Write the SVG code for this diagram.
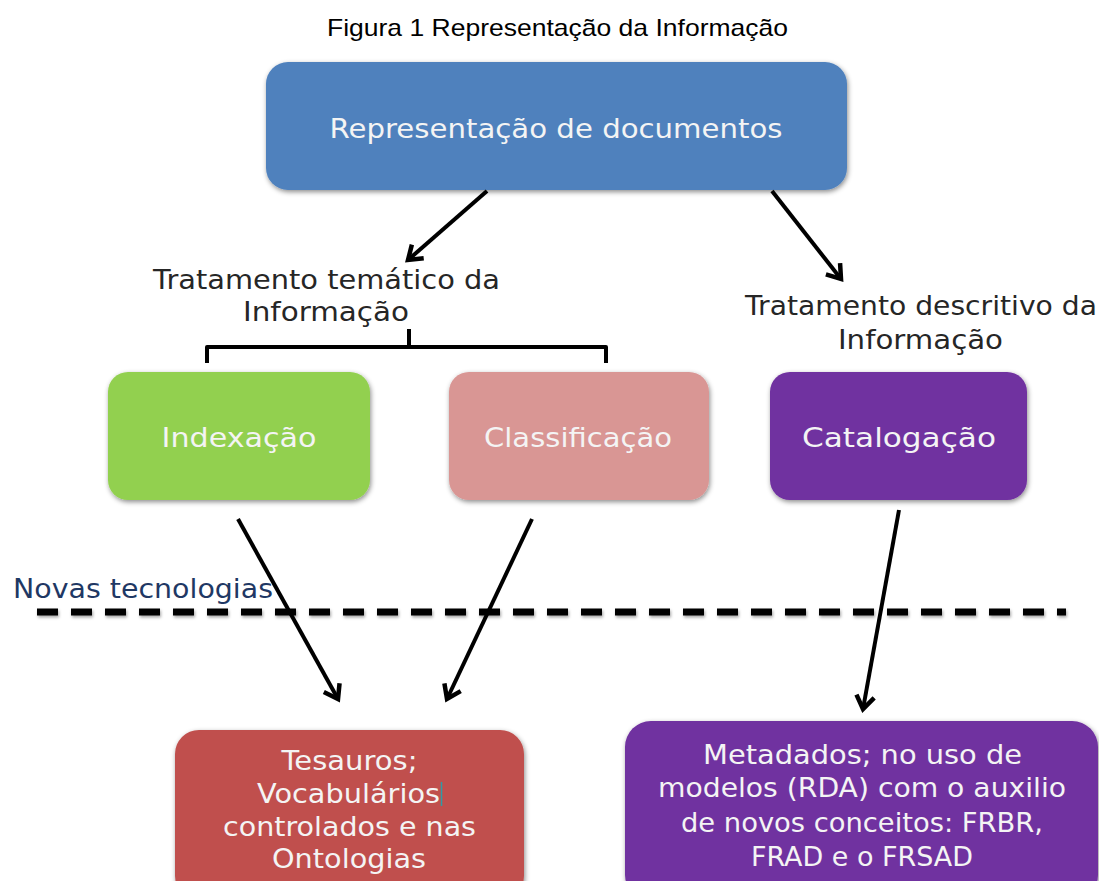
<svg xmlns="http://www.w3.org/2000/svg" width="1099" height="881" viewBox="0 0 1099 881">
  <style>
    .title { font-family: "Liberation Sans", Arial, sans-serif; font-size: 24px; fill: #000; }
    .box { filter: url(#shadow); }
    .btext { font-family: "DejaVu Sans", "Open Sans", sans-serif; font-size: 27px; fill: #F4F4F4; text-anchor: middle; }
    .label { font-family: "DejaVu Sans", "Open Sans", sans-serif; font-size: 27px; fill: #262626; }
    .conn { stroke: #000; stroke-width: 4; fill: none; marker-end: url(#arrow); }
  </style>
  <defs>
    <filter id="shadow" x="-10%" y="-10%" width="120%" height="130%">
      <feDropShadow dx="1" dy="2" stdDeviation="2.5" flood-color="#000" flood-opacity="0.45"/>
    </filter>
    <filter id="lineshadow" filterUnits="userSpaceOnUse" x="20" y="595" width="1070" height="40">
      <feDropShadow dx="1" dy="2" stdDeviation="1.5" flood-color="#000" flood-opacity="0.35"/>
    </filter>
    <marker id="arrow" markerUnits="userSpaceOnUse" markerWidth="30" markerHeight="30" refX="0" refY="0" orient="auto" viewBox="-16 -15 30 30" overflow="visible">
      <path d="M-13,-9 L0,0 L-13,9" fill="none" stroke="#000" stroke-width="4.5" stroke-linejoin="miter"/>
    </marker>
  </defs>
  <rect width="1099" height="881" fill="#FFFFFF"/>

  <text class="title" x="327" y="36" textLength="461" lengthAdjust="spacingAndGlyphs">Figura 1 Representação da Informação</text>

  <g id="n-representacao">
    <rect class="box" x="266" y="62" width="581" height="128" rx="22" fill="#4F81BD"/>
    <text class="btext" x="556" y="138" textLength="453" lengthAdjust="spacingAndGlyphs">Representação de documentos</text>
  </g>

  <g id="n-tematico">
    <text class="label" x="153" y="289" textLength="347" lengthAdjust="spacingAndGlyphs">Tratamento temático da</text>
    <text class="label" x="243" y="321" textLength="166" lengthAdjust="spacingAndGlyphs">Informação</text>
  </g>

  <g id="n-descritivo">
    <text class="label" x="745" y="315" textLength="352" lengthAdjust="spacingAndGlyphs">Tratamento descritivo da</text>
    <text class="label" x="838" y="349" textLength="165" lengthAdjust="spacingAndGlyphs">Informação</text>
  </g>

  <g id="n-indexacao">
    <rect class="box" x="108" y="372" width="262" height="128" rx="20" fill="#92D050"/>
    <text class="btext" x="239" y="447" textLength="155" lengthAdjust="spacingAndGlyphs">Indexação</text>
  </g>

  <g id="n-classificacao">
    <rect class="box" x="449" y="372" width="260" height="128" rx="20" fill="#D99694"/>
    <text class="btext" x="578" y="447" textLength="188" lengthAdjust="spacingAndGlyphs">Classificação</text>
  </g>

  <g id="n-catalogacao">
    <rect class="box" x="770" y="372" width="257" height="128" rx="20" fill="#7030A0"/>
    <text class="btext" x="899" y="447" textLength="194" lengthAdjust="spacingAndGlyphs">Catalogação</text>
  </g>

  <g id="n-novas">
    <text x="13" y="598" textLength="260" lengthAdjust="spacingAndGlyphs" style="font-family: 'DejaVu Sans', 'Open Sans', sans-serif; font-size: 26px; fill: #1F3864;">Novas tecnologias</text>
    <line x1="37" y1="612" x2="1066" y2="612" stroke="#000" stroke-width="7" stroke-dasharray="21 13" filter="url(#lineshadow)"/>
  </g>

  <g id="n-tesauros">
    <rect class="box" x="175" y="730" width="349" height="170" rx="24" fill="#C0504D"/>
    <text class="btext" x="349.5" y="770" textLength="136" lengthAdjust="spacingAndGlyphs">Tesauros;</text>
    <text class="btext" x="348.5" y="803" textLength="183" lengthAdjust="spacingAndGlyphs">Vocabulários</text>
    <line x1="441.5" y1="782" x2="441.5" y2="806" stroke="#2E9CA6" stroke-width="1.5"/>
    <text class="btext" x="349.5" y="836" textLength="253" lengthAdjust="spacingAndGlyphs">controlados e nas</text>
    <text class="btext" x="349" y="868" textLength="154" lengthAdjust="spacingAndGlyphs">Ontologias</text>
  </g>

  <g id="n-metadados">
    <rect class="box" x="625" y="721" width="473" height="180" rx="26" fill="#7030A0"/>
    <text class="btext" x="862.5" y="764" textLength="319" lengthAdjust="spacingAndGlyphs">Metadados; no uso de</text>
    <text class="btext" x="862" y="797" textLength="408" lengthAdjust="spacingAndGlyphs">modelos (RDA) com o auxilio</text>
    <text class="btext" x="862" y="832" textLength="362" lengthAdjust="spacingAndGlyphs">de novos conceitos: FRBR,</text>
    <text class="btext" x="862" y="866" textLength="222" lengthAdjust="spacingAndGlyphs">FRAD e o FRSAD</text>
  </g>

  <g id="connectors">
    <line class="conn" x1="487" y1="191" x2="408" y2="260"/>
    <line class="conn" x1="772" y1="191" x2="841" y2="279"/>
    <line class="conn" x1="238" y1="519" x2="338" y2="699"/>
    <line class="conn" x1="532" y1="519" x2="447" y2="699"/>
    <line class="conn" x1="899" y1="510" x2="863" y2="709"/>
    <path d="M207,363 L207,347 L606,347 L606,363 M409,347 L409,329" fill="none" stroke="#000" stroke-width="4" stroke-linejoin="round"/>
  </g>
</svg>
